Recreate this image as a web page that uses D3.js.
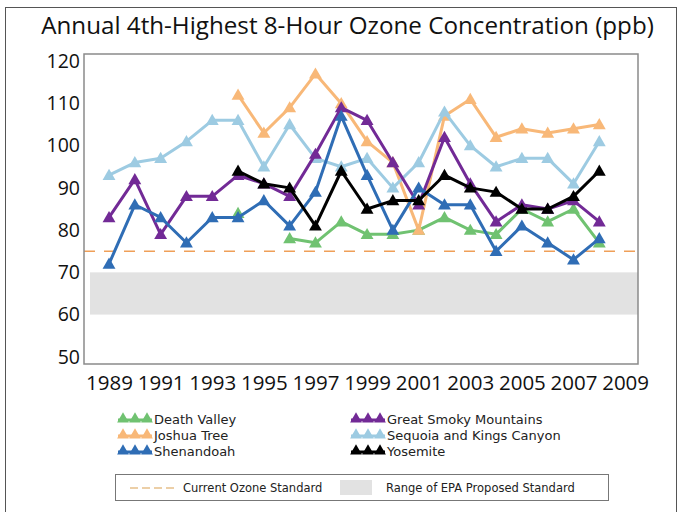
<!DOCTYPE html>
<html><head><meta charset="utf-8">
<script src="https://cdn.jsdelivr.net/npm/d3@7"></script>
<style>
html,body{margin:0;padding:0;background:#fff;}
svg{display:block;font-family:"Open Sans","Noto Sans",sans-serif;}
</style></head>
<body>
<svg id="chart" width="681" height="512"></svg>
<script>
const years = [1989,1990,1991,1992,1993,1994,1995,1996,1997,1998,1999,2000,2001,2002,2003,2004,2005,2006,2007,2008];
const deathValley = [null,null,null,null,null,84,null,78,77,82,79,79,80,83,80,79,85,82,85,77];
const joshuaTree  = [null,null,null,null,null,112,103,109,117,110,101,96,80,107,111,102,104,103,104,105];
const greatSmoky  = [83,92,79,88,88,93,91,88,98,109,106,96,86,102,91,82,86,85,87,82];
const sequoia     = [93,96,97,101,106,106,95,105,97,95,97,90,96,108,100,95,97,97,91,101];
const shenandoah  = [72,86,83,77,83,83,87,81,89,107,93,80,90,86,86,75,81,77,73,78];
const yosemite    = [null,null,null,null,null,94,91,90,81,94,85,87,87,93,90,89,85,85,88,94];
const seriesNames = ["Death Valley","Joshua Tree","Shenandoah","Great Smoky Mountains","Sequoia and Kings Canyon","Yosemite"];
const xTickLabels = [1989,1991,1993,1995,1997,1999,2001,2003,2005,2007,2009];
const yTickLabels = [50,60,70,80,90,100,110,120];
const currentStandard = 75;
const proposedRange = [60,70];
const chartTitle = "Annual 4th-Highest 8-Hour Ozone Concentration (ppb)";

const colors = {
  "Death Valley":"#70c271",
  "Joshua Tree":"#f8b878",
  "Shenandoah":"#2f6db5",
  "Great Smoky Mountains":"#722a96",
  "Sequoia and Kings Canyon":"#9dcbe2",
  "Yosemite":"#000000"
};
const seriesData = {
  "Death Valley":deathValley,
  "Joshua Tree":joshuaTree,
  "Shenandoah":shenandoah,
  "Great Smoky Mountains":greatSmoky,
  "Sequoia and Kings Canyon":sequoia,
  "Yosemite":yosemite
};
const drawOrder = ["Death Valley","Joshua Tree","Sequoia and Kings Canyon","Great Smoky Mountains","Shenandoah","Yosemite"];

const svg = d3.select("#chart");
svg.append("rect").attr("x",5.5).attr("y",7.5).attr("width",671).attr("height",520)
  .attr("fill","none").attr("stroke","#555").attr("stroke-width",1);

svg.append("text").attr("x",347.5).attr("y",34).attr("text-anchor","middle")
  .attr("font-size",24.2).attr("fill","#111").text(chartTitle);

const pL=84, pR=638, pT=54, pB=364;
const x = d3.scaleLinear().domain([1988.03,2009.5]).range([pL,pR]);
const y = d3.scaleLinear().domain([48.3,121.7]).range([pB,pT]);

svg.append("rect").attr("x",pL+6).attr("y",y(proposedRange[1]))
  .attr("width",pR-pL-6).attr("height",y(proposedRange[0])-y(proposedRange[1]))
  .attr("fill","#e2e2e2");
svg.append("line").attr("x1",pL).attr("x2",pR).attr("y1",y(currentStandard)).attr("y2",y(currentStandard))
  .attr("stroke","#ef9f58").attr("stroke-width",1.5).attr("stroke-dasharray","11,9");

svg.append("rect").attr("x",pL).attr("y",pT).attr("width",pR-pL).attr("height",pB-pT)
  .attr("fill","none").attr("stroke","#8a8a8a").attr("stroke-width",1.5);

const yAxis = svg.append("g").attr("transform",`translate(${pL},0)`)
  .call(d3.axisLeft(y).tickValues(yTickLabels).tickSize(0).tickPadding(4));
yAxis.select(".domain").remove();
yAxis.selectAll("text").attr("font-size",19.5).attr("fill","#111").attr("font-family",'"Open Sans",sans-serif');

const xAxis = svg.append("g").attr("transform",`translate(0,${pB})`)
  .call(d3.axisBottom(x).tickValues(xTickLabels).tickFormat(d3.format("d")).tickSize(0).tickPadding(11));
xAxis.select(".domain").remove();
xAxis.selectAll("text").attr("font-size",20.5).attr("fill","#111").attr("font-family",'"Open Sans",sans-serif');

const tri = d3.symbol().type(d3.symbolTriangle).size(72);
const line = d3.line().defined(d=>d.v!=null).x(d=>x(d.year)).y(d=>y(d.v));

drawOrder.forEach(name=>{
  const pts = years.map((yr,i)=>({year:yr,v:seriesData[name][i]}));
  const g = svg.append("g");
  g.append("path").datum(pts).attr("d",line).attr("fill","none")
    .attr("stroke",colors[name]).attr("stroke-width",3).attr("stroke-linejoin","round");
  g.selectAll("path.m").data(pts.filter(d=>d.v!=null)).enter().append("path").attr("class","m")
    .attr("d",tri).attr("transform",d=>`translate(${x(d.year)},${y(d.v)+1})`)
    .attr("fill",colors[name]);
});

const legendPos = [
  {name:"Death Valley",col:0,row:0},
  {name:"Joshua Tree",col:0,row:1},
  {name:"Shenandoah",col:0,row:2},
  {name:"Great Smoky Mountains",col:1,row:0},
  {name:"Sequoia and Kings Canyon",col:1,row:1},
  {name:"Yosemite",col:1,row:2}
];
const legTri = d3.symbol().type(d3.symbolTriangle).size(60);
legendPos.forEach(p=>{
  const lx = p.col===0 ? 118 : 351;
  const ly = 418 + p.row*16;
  const g = svg.append("g").attr("transform",`translate(${lx},${ly})`);
  g.append("line").attr("x1",0).attr("x2",34).attr("y1",2).attr("y2",2)
    .attr("stroke",colors[p.name]).attr("stroke-width",3);
  [5,17,29].forEach(dx=>g.append("path").attr("d",legTri)
    .attr("transform",`translate(${dx},1)`).attr("fill",colors[p.name]));
  g.append("text").attr("x",36).attr("y",5.5).attr("font-size",13)
    .attr("font-family",'"DejaVu Sans",sans-serif').attr("fill","#222").text(p.name);
});

const lg = svg.append("g");
lg.append("rect").attr("x",115.5).attr("y",474.5).attr("width",493).attr("height",26)
  .attr("fill","#fff").attr("stroke","#777").attr("stroke-width",1);
lg.append("line").attr("x1",130).attr("x2",178).attr("y1",488).attr("y2",488)
  .attr("stroke","#d9a050").attr("stroke-width",1.2).attr("stroke-dasharray","8,4");
lg.append("text").attr("x",183).attr("y",492).attr("font-size",11.5)
  .attr("font-family",'"DejaVu Sans",sans-serif').attr("fill","#222").text("Current Ozone Standard");
lg.append("rect").attr("x",340).attr("y",480).attr("width",32).attr("height",15).attr("fill","#e2e2e2");
lg.append("text").attr("x",386).attr("y",492).attr("font-size",11.5)
  .attr("font-family",'"DejaVu Sans",sans-serif').attr("fill","#222").text("Range of EPA Proposed Standard");
</script>
</body></html>
